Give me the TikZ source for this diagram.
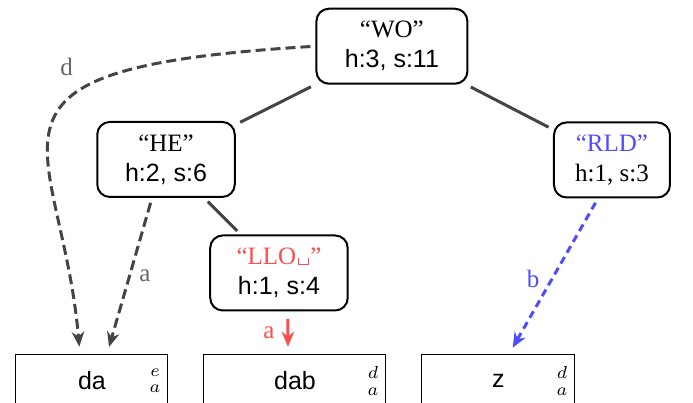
\documentclass[tikz,border=0pt]{standalone}
\usepackage{fontspec}
\setmainfont{Liberation Serif}
\setsansfont{Liberation Sans}
\usetikzlibrary{arrows.meta}
\definecolor{edgegray}{HTML}{444444}
\definecolor{labelgray}{HTML}{666666}
\definecolor{hlred}{HTML}{FF4D4D}
\definecolor{hlblue}{HTML}{4D4DFF}
\newcommand{\spacemark}{\kern.6pt\vrule height 2.6pt depth 0pt width .4pt\vrule height .4pt depth 0pt width 3.6pt\vrule height 2.6pt depth 0pt width .4pt\kern.6pt}
\begin{document}
\begin{tikzpicture}[
  trienode/.style={draw, thick, rounded corners=5pt, align=center, font=\sffamily, inner sep=2pt, minimum height=30pt},
  leafbox/.style={draw, font=\sffamily, minimum height=21pt},
  treeline/.style={very thick, color=edgegray, shorten <=2pt, shorten >=2pt},
  suffixarrow/.style={very thick, -{Stealth[length=6pt,width=5pt]}, shorten <=2pt, shorten >=3pt},
  edgelabel/.style={font=\rmfamily},
  marks/.style={font=\fontsize{7pt}{6.5pt}\selectfont, align=center, inner sep=0pt, anchor=east}
]
  \useasboundingbox (0,0) rectangle (9.743,-5.652);
  \node[trienode, minimum width=60.4pt] (wo) at (5.51,-0.65) {{\rmfamily “WO”}\\h:3, s:11};
  \node[trienode, minimum width=55pt] (he) at (2.334,-2.242) {{\rmfamily “HE”}\\h:2, s:6};
  \node[trienode, minimum width=55pt] (llo) at (3.922,-3.838) {{\rmfamily\color{hlred}“LLO\spacemark”}\\h:1, s:4};
  \node[trienode, minimum width=46.4pt, font=\rmfamily] (rld) at (8.604,-2.249) {{\color{hlblue}“RLD”}\\h:1, s:3};
  % leaves
  \node[leafbox, minimum width=60.8pt] (da) at (1.293,-5.356) {da};
  \node[leafbox, minimum width=72.8pt] (dab) at (4.147,-5.356) {dab};
  \node[leafbox, minimum width=61.2pt] (z) at (7.008,-5.356) {z};
  \node[marks] (da-marks) at ([xshift=-3pt]da.east) {$e$\\$a$};
  \node[marks] (dab-marks) at ([xshift=-3pt]dab.east) {$d$\\$a$};
  \node[marks] (z-marks) at ([xshift=-3pt]z.east) {$d$\\$a$};
  \draw[treeline] (wo) -- (he);
  \draw[treeline] (wo) -- (rld);
  \draw[treeline] (he) -- (llo);
  \draw[suffixarrow, color=edgegray, dash pattern=on 4pt off 2pt, out=183.5, in=95, out looseness=2.45, in looseness=1.45] (wo.west) to node[edgelabel, pos=0.33, anchor=south east, inner sep=1pt, xshift=-4pt, yshift=3pt, text=labelgray] {d} ([xshift=-4.8pt]da.north);
  \draw[suffixarrow, color=edgegray, dash pattern=on 4pt off 2pt] ([xshift=-5.6pt]he.south) -- node[edgelabel, pos=0.5, right, text=labelgray] {a} ([xshift=6pt]da.north);
  \draw[suffixarrow, color=hlred, shorten <=3pt] ([xshift=3.6pt]llo.south) -- node[edgelabel, left=1.5pt] {a} ([xshift=-2.8pt]dab.north);
  \draw[suffixarrow, color=hlblue, densely dashed] ([xshift=-5.6pt]rld.south) -- node[edgelabel, pos=0.52, left=1pt] {b} ([xshift=4.2pt]z.north);
\end{tikzpicture}
\end{document}
